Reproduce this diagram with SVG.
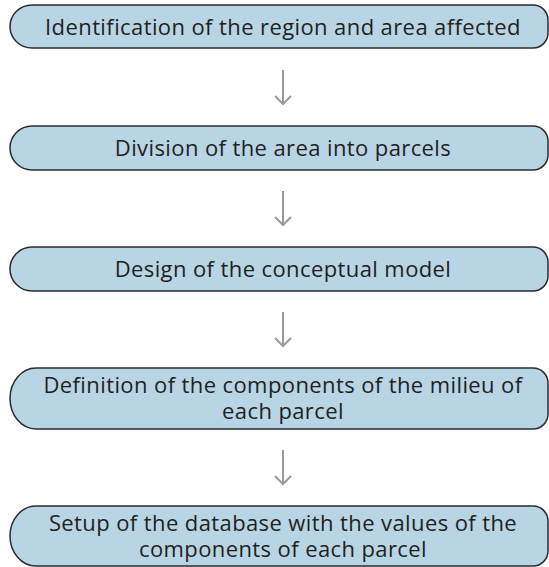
<svg xmlns="http://www.w3.org/2000/svg" width="549" height="567" viewBox="0 0 549 567">
<defs>
<style>
.box{fill:#b8d5e5;stroke:#2b2b2b;stroke-width:1.5}
.t{font-family:"Open Sans","Noto Sans",sans-serif;font-size:22px;letter-spacing:0.4px;fill:#231f20;text-anchor:middle}
.arr{stroke:#9a9a9a;stroke-width:2;fill:none}
</style>
</defs>
<rect width="549" height="567" fill="#ffffff"/>
<g id="n1">
<path class="box" d="M32,5 H533 A15,15 0 0 1 548,20 V33 A15,15 0 0 1 533,48 H32 A22,21.5 0 0 1 10,26.5 A22,21.5 0 0 1 32,5 Z"/>
<text class="t" x="283" y="34.5">Identification of the region and area affected</text>
</g>
<g id="n2">
<path class="box" d="M32,126 H533 A15,15 0 0 1 548,141 V155 A15,15 0 0 1 533,170 H32 A22,22 0 0 1 10,148 A22,22 0 0 1 32,126 Z"/>
<text class="t" x="283" y="156">Division of the area into parcels</text>
</g>
<g id="n3">
<path class="box" d="M32,247 H533 A15,15 0 0 1 548,262 V276 A15,15 0 0 1 533,291 H32 A22,22 0 0 1 10,269 A22,22 0 0 1 32,247 Z"/>
<text class="t" x="283" y="277">Design of the conceptual model</text>
</g>
<g id="n4">
<path class="box" d="M36,368 H533 A15,15 0 0 1 548,383 V414 A15,15 0 0 1 533,429 H36 A26,30.5 0 0 1 10,398.5 A26,30.5 0 0 1 36,368 Z"/>
<text class="t" x="283" y="393">Definition of the components of the milieu of</text>
<text class="t" x="283" y="419">each parcel</text>
</g>
<g id="n5">
<path class="box" d="M36,506 H533 A15,15 0 0 1 548,521 V551 A15,15 0 0 1 533,566 H36 A26,30 0 0 1 10,536 A26,30 0 0 1 36,506 Z"/>
<text class="t" x="283" y="530.5">Setup of the database with the values of the</text>
<text class="t" x="283" y="556.5">components of each parcel</text>
</g>
<g id="connectors">
<path class="arr" d="M283,70 V104 M275,96 L283,104 L291,96"/>
<path class="arr" d="M283,191 V225 M275,217 L283,225 L291,217"/>
<path class="arr" d="M283,312 V346 M275,338 L283,346 L291,338"/>
<path class="arr" d="M283,450 V484 M275,476 L283,484 L291,476"/>
</g>
</svg>
